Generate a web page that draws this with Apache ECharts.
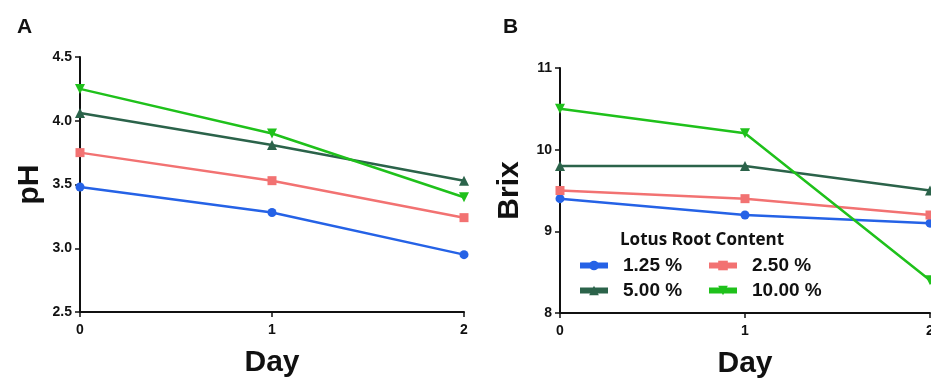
<!DOCTYPE html>
<html>
<head>
<meta charset="utf-8">
<script src="https://cdn.jsdelivr.net/npm/echarts@6/dist/echarts.min.js"></script>
<style>
  html, body { margin: 0; padding: 0; background: #fff; }
  #chart { width: 931px; height: 379px; }
</style>
</head>
<body>
<div id="chart"></div>
<script>
// Fermentation days
const days = [0, 1, 2];

// Lotus root content levels
const seriesNames = ['1.25 %', '2.50 %', '5.00 %', '10.00 %'];

// Panel A: pH
const ph_125 = [3.48, 3.28, 2.95];
const ph_250 = [3.75, 3.53, 3.24];
const ph_500 = [4.06, 3.81, 3.53];
const ph_1000 = [4.25, 3.90, 3.40];

// Panel B: Brix
const brix_125 = [9.40, 9.20, 9.10];
const brix_250 = [9.50, 9.40, 9.20];
const brix_500 = [9.80, 9.80, 9.50];
const brix_1000 = [10.50, 10.20, 8.40];

// Axis ticks
const phTicks = { min: 2.5, max: 4.5, interval: 0.5 };
const brixTicks = { min: 8, max: 11, interval: 1 };
const dayTicks = { min: 0, max: 2, interval: 1 };

const colors = ['#2562e6', '#f27272', '#2b634a', '#1fc11b'];
const symbols = ['circle', 'rect', 'triangle', 'triangle'];
const symbolRotate = [0, 0, 0, 180];
const symbolSizes = [9, 9, 10, 10];

const FONT = 'Liberation Sans, Arial, sans-serif';

function pairs(ys) {
  return days.map((d, i) => [d, ys[i]]);
}

function makeSeries(idx, gridIdx, ys) {
  return {
    name: seriesNames[idx],
    type: 'line',
    xAxisIndex: gridIdx,
    yAxisIndex: gridIdx,
    data: pairs(ys),
    symbol: symbols[idx],
    symbolRotate: symbolRotate[idx],
    symbolSize: symbolSizes[idx],
    lineStyle: { width: 2.5, color: colors[idx] },
    itemStyle: { color: colors[idx] },
    z: 3 + idx,
    animation: false
  };
}

const axisCommon = {
  axisLine: { lineStyle: { color: '#111', width: 2 } },
  axisTick: { show: true, length: 5, lineStyle: { color: '#111', width: 1.5 } },
  splitLine: { show: false },
  axisLabel: { color: '#111', fontFamily: FONT, fontWeight: 'bold', fontSize: 14 },
  nameTextStyle: { color: '#111', fontFamily: FONT, fontWeight: 'bold', fontSize: 30 }
};

function xAxis(gridIndex) {
  return Object.assign({}, axisCommon, {
    type: 'value', gridIndex,
    min: dayTicks.min, max: dayTicks.max, interval: dayTicks.interval,
    name: 'Day', nameLocation: 'middle', nameGap: 36,
    axisLabel: Object.assign({}, axisCommon.axisLabel, { margin: 11 })
  });
}

function yAxis(gridIndex, ticks, name, digits) {
  return Object.assign({}, axisCommon, {
    type: 'value', gridIndex,
    min: ticks.min, max: ticks.max, interval: ticks.interval,
    name, nameLocation: 'middle', nameGap: 35,
    axisLabel: Object.assign({}, axisCommon.axisLabel, {
      margin: 8,
      formatter: v => v.toFixed(digits)
    })
  });
}

// One legend block per entry, laid out as a 2x2 table
const legendSlots = [
  { left: 577, top: 256 },
  { left: 706, top: 256 },
  { left: 577, top: 281 },
  { left: 706, top: 281 }
];

const legends = seriesNames.map((n, i) => ({
  data: [n],
  left: legendSlots[i].left,
  top: legendSlots[i].top,
  itemWidth: 28,
  itemHeight: 12,
  padding: 0,
  lineStyle: { width: 6 },
  textStyle: {
    color: '#111', fontFamily: FONT, fontWeight: 'bold', fontSize: 19,
    padding: [0, 0, 0, 10]
  },
  selectedMode: false
}));

const chart = echarts.init(document.getElementById('chart'), null, { renderer: 'canvas' });

chart.setOption({
  backgroundColor: '#ffffff',
  animation: false,
  title: [
    { text: 'A', left: 12, top: 12, textStyle: { fontFamily: FONT, fontWeight: 'bold', fontSize: 21, color: '#111' } },
    { text: 'B', left: 498, top: 12, textStyle: { fontFamily: FONT, fontWeight: 'bold', fontSize: 21, color: '#111' } },
    { text: 'Lotus Root Content', left: 615, top: 227, textStyle: { fontFamily: 'Open Sans, sans-serif', fontWeight: 'bold', fontSize: 17, color: '#111' } }
  ],
  legend: legends,
  grid: [
    { left: 80, top: 57, width: 384, height: 255, outerBoundsMode: 'none', containLabel: false },
    { left: 560, top: 68, width: 370, height: 245, outerBoundsMode: 'none', containLabel: false }
  ],
  xAxis: [xAxis(0), xAxis(1)],
  yAxis: [yAxis(0, phTicks, 'pH', 1), yAxis(1, brixTicks, 'Brix', 0)],
  series: [
    makeSeries(0, 0, ph_125),
    makeSeries(1, 0, ph_250),
    makeSeries(2, 0, ph_500),
    makeSeries(3, 0, ph_1000),
    makeSeries(0, 1, brix_125),
    makeSeries(1, 1, brix_250),
    makeSeries(2, 1, brix_500),
    makeSeries(3, 1, brix_1000)
  ]
});
</script>
</body>
</html>
